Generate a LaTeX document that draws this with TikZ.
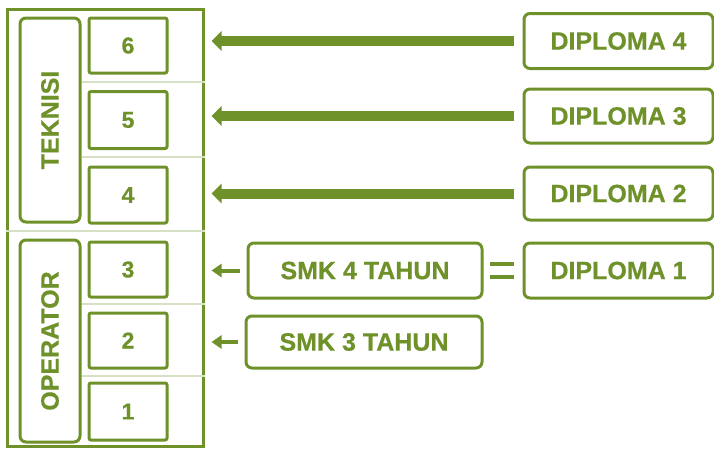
\documentclass[tikz,border=0pt]{standalone}
\usepackage{fontspec}
\setmainfont{Liberation Sans}
\newfontfamily\heavy[BoldFont={* Bold},BoldFeatures={FakeBold=0.6}]{Liberation Sans}
\usetikzlibrary{arrows.meta}
\definecolor{olive}{RGB}{110,145,42}
\definecolor{rule}{RGB}{214,224,196}
\begin{document}
\begin{tikzpicture}[x=1pt,y=-1pt,
  every node/.style={text=olive,font=\heavy\fontsize{25}{25}\selectfont\bfseries},
  frame/.style={draw=olive,line width=3pt,inner sep=0pt},
  tagbox/.style={draw=olive,line width=3pt,rounded corners=6pt,inner sep=0pt},
  levelbox/.style={draw=olive,line width=3pt,rounded corners=2pt,inner sep=0pt,
    minimum width=78pt,font=\heavy\fontsize{23}{23}\selectfont\bfseries},
  srcbox/.style={draw=olive,line width=3pt,rounded corners=6pt,inner sep=0pt},
  sep/.style={draw=rule,line width=1.2pt},
  bigarrow/.style={draw=olive,line width=10pt,-{Triangle[length=10pt,width=19pt]}},
  smallarrow/.style={draw=olive,line width=4pt,-{Triangle[length=10pt,width=13pt]}},
  eqbar/.style={draw=olive,line width=4pt}]
\useasboundingbox (0,0) rectangle (714,448);

% outer frame and group labels
\node[frame,minimum width=196pt,minimum height=437pt] (frame) at (105,227.5) {};
\node[tagbox,minimum width=60pt,minimum height=204pt] (tek) at (50,120) {};
\node[rotate=90] at (tek) {TEKNISI};
\node[tagbox,minimum width=60pt,minimum height=202pt] (op) at (50,341) {};
\node[rotate=90] at (op) {OPERATOR};

% thin dividers between levels
\draw[sep] (tek.east |- 0,82) -- (frame.east |- 0,82);
\draw[sep] (tek.east |- 0,157) -- (frame.east |- 0,157);
\draw[sep] (frame.west |- 0,231) -- (frame.east |- 0,231);
\draw[sep] (op.east |- 0,304) -- (frame.east |- 0,304);
\draw[sep] (op.east |- 0,376) -- (frame.east |- 0,376);

% levels
\node[levelbox,minimum height=55pt] (n6) at (128,45.5) {6};
\node[levelbox,minimum height=57pt] (n5) at (128,120) {5};
\node[levelbox,minimum height=56pt] (n4) at (128,195) {4};
\node[levelbox,minimum height=55pt] (n3) at (128,269.5) {3};
\node[levelbox,minimum height=55pt] (n2) at (128,340.5) {2};
\node[levelbox,minimum height=57pt] (n1) at (128,411.5) {1};

% education sources
\node[srcbox,minimum width=189pt,minimum height=55pt] (d4) at (618.5,41) {DIPLOMA 4};
\node[srcbox,minimum width=189pt,minimum height=54pt] (d3) at (618.5,116) {DIPLOMA 3};
\node[srcbox,minimum width=189pt,minimum height=53pt] (d2) at (618.5,193.5) {DIPLOMA 2};
\node[srcbox,minimum width=189pt,minimum height=55pt] (d1) at (618.5,270.5) {DIPLOMA 1};
\node[srcbox,minimum width=234pt,minimum height=55pt] (smk4) at (365,270.5) {SMK 4 TAHUN};
\node[srcbox,minimum width=236pt,minimum height=52pt] (smk3) at (364,342) {SMK 3 TAHUN};

% arrows into the frame
\coordinate (tip) at ([xshift=7pt]frame.east);
\foreach \s in {d4,d3,d2}
  \draw[bigarrow] ([xshift=-9pt]\s.west) -- (\s.west -| tip);
\foreach \s in {smk4,smk3}
  \draw[smallarrow] ([xshift=-7pt]\s.west) -- (\s.west -| tip);

% equivalence sign
\draw[eqbar] ([xshift=6pt,yshift=-6.5pt]smk4.east) -- ([xshift=-9pt,yshift=-6.5pt]d1.west |- smk4.east);
\draw[eqbar] ([xshift=6pt,yshift=6.5pt]smk4.east) -- ([xshift=-9pt,yshift=6.5pt]d1.west |- smk4.east);
\end{tikzpicture}
\end{document}
